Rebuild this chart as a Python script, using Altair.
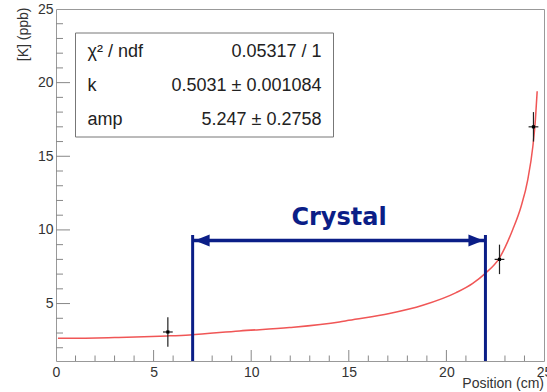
import altair as alt
import pandas as pd

# ---- data ----
pos = [5.73, 22.72, 24.46]
conc = [3.07, 8.0, 17.0]
conc_err = [1.0, 1.0, 1.0]
pos_err = [0.25, 0.25, 0.25]

fit_x = [0.1, 1.5, 3.0, 4.5, 5.7, 6.84, 9.4, 11.96, 14.52, 15.0, 17.08, 18.79,
         20.5, 21.35, 21.95, 22.72, 23.4, 23.83, 24.17, 24.43, 24.56, 24.65]
fit_y = [2.64, 2.65, 2.69, 2.74, 2.8, 2.87, 3.14, 3.37, 3.75, 3.86, 4.32, 4.88,
         5.74, 6.37, 7.0, 8.1, 10.03, 11.61, 13.42, 15.68, 17.49, 19.41]

crystal_edges = [7, 22]
crystal_label = "Crystal"

x_major = [5, 10, 15, 20]
x_minor = [v for v in range(1, 25) if v % 5 != 0]
y_major = [5, 10, 15, 20]
y_minor = [v for v in range(2, 25) if v % 5 != 0]

stats_names = ["χ² / ndf", "k", "amp"]
stats_values = ["0.05317 / 1", "0.5031 ± 0.001084", "5.247 ± 0.2758"]

W, H = 488, 352
NAVY = "#0b1e87"
RED = "#f05656"
FONT = "Liberation Sans"

xs = alt.Scale(domain=[0, 25], nice=False, zero=False)
ys = alt.Scale(domain=[1.1, 25], nice=False, zero=False)

pts = pd.DataFrame({"x": pos, "y": conc, "ey": conc_err, "ex": pos_err})
pts["ylo"] = pts.y - pts.ey
pts["yhi"] = pts.y + pts.ey
pts["xlo"] = pts.x - pts.ex
pts["xhi"] = pts.x + pts.ex

fit = pd.DataFrame({"x": fit_x, "y": fit_y})

xaxis = alt.Axis(values=[0, 5, 10, 15, 20, 25], format="d", ticks=False, domain=False,
                 grid=False, labelFlush=False, labelPadding=4, labelFontSize=14,
                 labelColor="#333", labelFont=FONT, title=None)
yaxis = alt.Axis(values=[5, 10, 15, 20, 25], format="d", ticks=False, domain=False,
                 grid=False, labelFlush=False, labelPadding=3, labelFontSize=14,
                 labelColor="#333", labelFont=FONT, title=None)

curve = alt.Chart(fit).mark_line(color=RED, strokeWidth=1.5, interpolate="monotone").encode(
    x=alt.X("x:Q", scale=xs, axis=xaxis),
    y=alt.Y("y:Q", scale=ys, axis=yaxis),
)

vbar = alt.Chart(pts).mark_rule(color="#222", strokeWidth=1.2).encode(
    x=alt.X("x:Q", scale=xs), y=alt.Y("ylo:Q", scale=ys), y2="yhi:Q")
hbar = alt.Chart(pts).mark_rule(color="#222", strokeWidth=1.2).encode(
    x=alt.X("xlo:Q", scale=xs), x2="xhi:Q", y=alt.Y("y:Q", scale=ys))
dots = alt.Chart(pts).mark_point(filled=True, color="#000", size=10, shape="square", opacity=1).encode(
    x=alt.X("x:Q", scale=xs), y=alt.Y("y:Q", scale=ys))

# inward ticks
tick_color = "#888"
xmaj = alt.Chart(pd.DataFrame({"t": x_major})).mark_rule(color=tick_color).encode(
    x=alt.X("t:Q", scale=xs), y=alt.value(H), y2=alt.value(H - 11))
xmin = alt.Chart(pd.DataFrame({"t": x_minor})).mark_rule(color=tick_color).encode(
    x=alt.X("t:Q", scale=xs), y=alt.value(H), y2=alt.value(H - 5.5))
ymaj = alt.Chart(pd.DataFrame({"t": y_major})).mark_rule(color=tick_color).encode(
    y=alt.Y("t:Q", scale=ys), x=alt.value(0), x2=alt.value(14))
ymin = alt.Chart(pd.DataFrame({"t": y_minor})).mark_rule(color=tick_color).encode(
    y=alt.Y("t:Q", scale=ys), x=alt.value(0), x2=alt.value(7))

# crystal annotation
cdf = pd.DataFrame({"x": crystal_edges})
cdf2 = pd.DataFrame({"x1": [crystal_edges[0]], "x2": [crystal_edges[1]],
                     "mid": [(crystal_edges[0] + crystal_edges[1]) / 2], "label": [crystal_label]})
vlines = alt.Chart(cdf).mark_rule(color=NAVY, strokeWidth=3).encode(
    x=alt.X("x:Q", scale=xs), y=alt.value(226), y2=alt.value(H))
hline = alt.Chart(cdf2).mark_rule(color=NAVY, strokeWidth=3.5).encode(
    x=alt.X("x1:Q", scale=xs), x2="x2:Q", y=alt.value(231.5))
lhead = alt.Chart(cdf2).mark_point(filled=True, color=NAVY, opacity=1, size=225,
                                   shape="M0,0L2,-0.8L2,0.8Z", xOffset=2).encode(
    x=alt.X("x1:Q", scale=xs), y=alt.value(231.5))
rhead = alt.Chart(cdf2).mark_point(filled=True, color=NAVY, opacity=1, size=225,
                                   shape="M0,0L-2,-0.8L-2,0.8Z", xOffset=-2).encode(
    x=alt.X("x2:Q", scale=xs), y=alt.value(231.5))
ctext = alt.Chart(cdf2).mark_text(color=NAVY, font="DejaVu Sans", fontWeight="bold",
                                  fontSize=24, baseline="middle", align="center").encode(
    x=alt.X("mid:Q", scale=xs), y=alt.value(208.5), text="label:N")

# stats box
one = pd.DataFrame({"a": [0]})
box = alt.Chart(one).mark_rect(fill="white", stroke="#777", strokeWidth=1).encode(
    x=alt.value(19.5), x2=alt.value(277.5), y=alt.value(24), y2=alt.value(128))
sdf = pd.DataFrame({"name": stats_names, "val": stats_values,
                    "row": list(range(len(stats_names)))})
rowscale = alt.Scale(domain=[0, 2], range=[42.5, 110.5], nice=False, zero=False)
sname = alt.Chart(sdf).mark_text(align="left", baseline="middle", fontSize=18, font=FONT,
                                 color="#222").encode(
    x=alt.value(31.5), y=alt.Y("row:Q", scale=rowscale, axis=None),
    text="name:N")
sval = alt.Chart(sdf).mark_text(align="right", baseline="middle", fontSize=18, font=FONT,
                                color="#222").encode(
    x=alt.value(265.5), y=alt.Y("row:Q", scale=rowscale, axis=None),
    text="val:N")

# axis titles
ytitle = alt.Chart(one).mark_text(text="[K] (ppb)", angle=270, align="right", baseline="middle",
                                  fontSize=14, font=FONT, color="#333").encode(
    x=alt.value(-32), y=alt.value(-1.5))
xtitle = alt.Chart(one).mark_text(text="Position (cm)", align="right", baseline="alphabetic",
                                  fontSize=14, font=FONT, color="#333").encode(
    x=alt.value(W), y=alt.value(379))

main = alt.layer(curve, vbar, hbar, dots, xmaj, xmin, ymaj, ymin,
                 vlines, hline, lhead, rhead, ctext).resolve_scale(y="shared")
stats = alt.layer(box, sname, sval).resolve_scale(y="shared")

chart = alt.layer(main, stats, ytitle, xtitle).resolve_scale(y="independent").properties(
    width=W, height=H,
    autosize=alt.AutoSizeParams(type="none"),
    padding={"left": 56, "top": 9, "right": 3, "bottom": 31},
    background="white",
).configure_view(stroke="#999", strokeWidth=1)

chart.save("out.html", embed_options={"renderer": "svg", "actions": False})
